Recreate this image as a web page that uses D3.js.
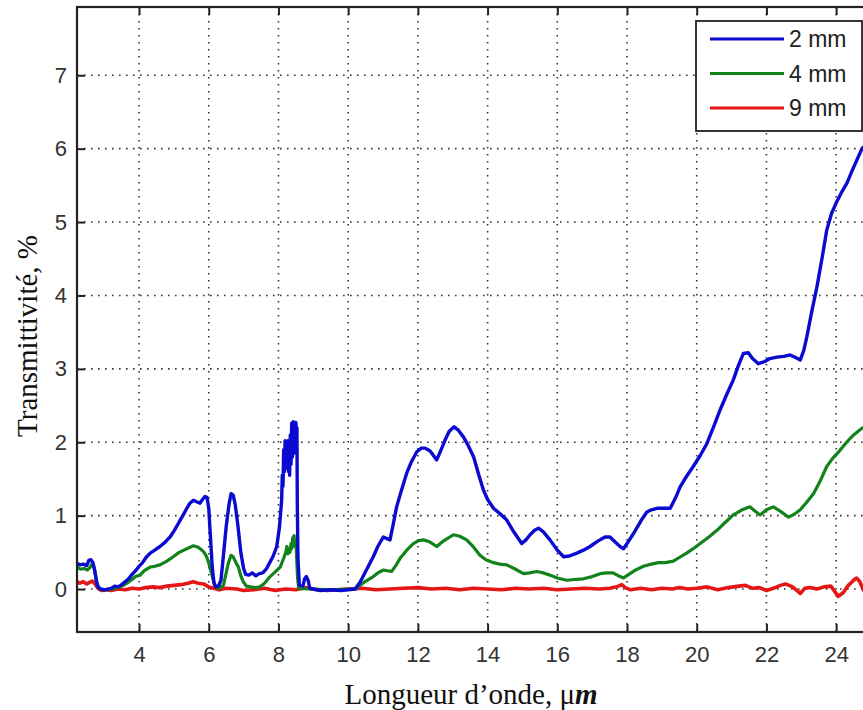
<!DOCTYPE html>
<html>
<head>
<meta charset="utf-8">
<script src="https://cdn.jsdelivr.net/npm/d3@7"></script>
<style>
  html, body { margin: 0; padding: 0; background: #fff; }
  svg { display: block; }
</style>
</head>
<body>
<svg id="chart" width="863" height="710"></svg>
<script>
// ---------- data ----------
const xTicks = [4, 6, 8, 10, 12, 14, 16, 18, 20, 22, 24];
const yTicks = [0, 1, 2, 3, 4, 5, 6, 7];
const seriesNames = ["2 mm", "4 mm", "9 mm"];

const x2mm = [2.22,2.30,2.40,2.50,2.56,2.62,2.68,2.74,2.80,2.88,3.00,3.10,3.20,3.30,3.40,3.50,3.60,3.70,3.80,3.90,4.00,4.10,4.20,4.32,4.45,4.60,4.75,4.89,5.00,5.10,5.18,5.28,5.37,5.46,5.56,5.65,5.75,5.82,5.89,5.95,6.00,6.05,6.10,6.15,6.20,6.28,6.35,6.42,6.50,6.58,6.64,6.70,6.76,6.84,6.92,7.00,7.06,7.15,7.25,7.35,7.45,7.55,7.66,7.75,7.85,7.95,8.03,8.09,8.11,8.13,8.15,8.17,8.19,8.21,8.23,8.25,8.27,8.29,8.31,8.32,8.34,8.36,8.38,8.40,8.42,8.44,8.46,8.48,8.50,8.52,8.53,8.54,8.56,8.60,8.70,8.75,8.80,8.85,8.90,9.20,9.50,9.80,10.00,10.20,10.35,10.50,10.72,10.85,11.01,11.10,11.20,11.30,11.39,11.50,11.68,11.80,11.97,12.10,12.21,12.35,12.54,12.65,12.78,12.90,13.04,13.15,13.31,13.45,13.60,13.75,13.88,14.00,14.17,14.35,14.55,14.75,14.98,15.10,15.22,15.35,15.46,15.60,15.79,16.00,16.18,16.35,16.56,16.75,16.94,17.15,17.37,17.51,17.66,17.80,17.90,18.00,18.19,18.40,18.57,18.70,18.86,19.05,19.24,19.40,19.52,19.70,19.90,20.10,20.29,20.50,20.67,20.85,21.05,21.20,21.34,21.48,21.60,21.77,21.95,22.10,22.30,22.50,22.68,22.85,22.97,23.07,23.16,23.30,23.45,23.60,23.73,23.87,24.02,24.15,24.31,24.45,24.59,24.74,24.85];
const y2mm = [0.35,0.33,0.34,0.32,0.39,0.40,0.36,0.22,0.05,0.00,-0.01,0.00,0.01,0.04,0.03,0.06,0.10,0.14,0.20,0.25,0.31,0.36,0.43,0.49,0.53,0.58,0.64,0.71,0.79,0.87,0.94,1.02,1.10,1.17,1.21,1.19,1.17,1.22,1.26,1.25,1.10,0.70,0.30,0.08,0.03,0.04,0.12,0.45,0.85,1.15,1.30,1.28,1.15,0.85,0.50,0.28,0.20,0.19,0.22,0.18,0.21,0.22,0.28,0.36,0.45,0.58,0.85,1.20,1.55,1.40,1.90,1.60,2.02,1.65,2.00,1.70,2.02,1.60,1.95,1.55,2.10,1.70,2.26,1.80,2.28,1.85,2.27,1.90,2.27,1.95,2.20,1.20,0.40,0.05,0.04,0.14,0.17,0.12,0.01,-0.02,-0.01,-0.02,-0.01,0.00,0.10,0.24,0.44,0.58,0.71,0.69,0.67,0.90,1.12,1.30,1.58,1.72,1.87,1.92,1.92,1.88,1.76,1.88,2.03,2.15,2.21,2.17,2.07,1.95,1.80,1.55,1.35,1.22,1.10,1.03,0.94,0.78,0.62,0.67,0.74,0.80,0.83,0.78,0.67,0.53,0.44,0.45,0.49,0.53,0.58,0.65,0.71,0.71,0.64,0.58,0.55,0.62,0.76,0.93,1.05,1.08,1.10,1.10,1.10,1.25,1.39,1.53,1.67,1.82,1.98,2.23,2.44,2.64,2.85,3.05,3.21,3.22,3.14,3.07,3.10,3.14,3.16,3.17,3.19,3.15,3.12,3.25,3.44,3.78,4.12,4.52,4.89,5.12,5.28,5.40,5.53,5.69,5.84,6.00,6.05];

const x4mm = [2.22,2.32,2.42,2.52,2.60,2.66,2.72,2.78,2.85,3.00,3.20,3.40,3.55,3.65,3.80,3.90,4.03,4.15,4.32,4.45,4.60,4.80,4.98,5.15,5.37,5.56,5.70,5.85,5.93,5.99,6.06,6.13,6.20,6.30,6.42,6.50,6.56,6.64,6.70,6.78,6.85,6.92,6.99,7.08,7.20,7.35,7.47,7.60,7.76,7.90,8.05,8.15,8.22,8.24,8.27,8.29,8.33,8.36,8.38,8.41,8.43,8.45,8.47,8.50,8.52,8.55,8.58,9.00,9.50,10.00,10.20,10.45,10.72,10.85,11.01,11.12,11.25,11.38,11.49,11.68,11.87,12.02,12.16,12.35,12.54,12.75,13.02,13.20,13.40,13.60,13.78,13.95,14.17,14.35,14.55,14.80,15.03,15.20,15.41,15.60,15.79,16.00,16.27,16.50,16.75,17.00,17.23,17.42,17.60,17.80,17.90,18.05,18.25,18.47,18.70,18.90,19.10,19.33,19.50,19.71,19.90,20.10,20.35,20.58,20.80,21.05,21.30,21.53,21.65,21.82,22.00,22.20,22.40,22.63,22.80,22.97,23.15,23.35,23.55,23.73,23.90,24.11,24.30,24.50,24.74,24.85];
const y4mm = [0.30,0.27,0.28,0.26,0.30,0.35,0.28,0.10,0.01,-0.01,0.00,0.02,0.05,0.08,0.13,0.17,0.19,0.25,0.30,0.31,0.33,0.38,0.44,0.50,0.55,0.59,0.57,0.51,0.45,0.37,0.25,0.12,0.03,0.01,0.05,0.22,0.35,0.46,0.44,0.36,0.30,0.18,0.10,0.04,0.03,0.02,0.03,0.08,0.17,0.23,0.30,0.42,0.52,0.58,0.48,0.55,0.50,0.62,0.55,0.70,0.60,0.73,0.58,0.66,0.45,0.15,0.01,0.00,-0.01,0.00,0.00,0.09,0.17,0.22,0.26,0.25,0.24,0.33,0.42,0.53,0.62,0.66,0.67,0.64,0.58,0.66,0.74,0.72,0.67,0.57,0.46,0.40,0.36,0.34,0.33,0.27,0.21,0.22,0.24,0.22,0.19,0.15,0.12,0.13,0.14,0.17,0.21,0.22,0.22,0.17,0.15,0.20,0.26,0.31,0.34,0.36,0.36,0.38,0.43,0.49,0.55,0.62,0.71,0.80,0.90,1.01,1.08,1.12,1.07,1.01,1.08,1.12,1.06,0.98,1.02,1.08,1.18,1.30,1.48,1.67,1.78,1.89,2.00,2.10,2.19,2.22];

const x9mm = [2.22,2.30,2.40,2.50,2.58,2.66,2.74,2.82,2.92,3.05,3.20,3.40,3.60,3.80,4.00,4.20,4.40,4.60,4.80,5.00,5.20,5.40,5.55,5.70,5.85,6.00,6.15,6.30,6.50,6.80,7.00,7.30,7.60,7.90,8.20,8.50,8.80,9.10,9.40,9.70,10.00,10.40,10.80,11.20,11.60,12.00,12.40,12.80,13.20,13.60,14.00,14.40,14.80,15.20,15.60,16.00,16.40,16.80,17.20,17.50,17.70,17.85,17.95,18.10,18.40,18.70,19.00,19.30,19.50,19.75,20.00,20.30,20.60,20.90,21.20,21.40,21.60,21.80,22.00,22.20,22.40,22.55,22.75,22.97,23.10,23.25,23.45,23.65,23.85,24.06,24.20,24.35,24.50,24.59,24.68,24.77,24.85];
const y9mm = [0.10,0.08,0.10,0.07,0.09,0.11,0.07,0.01,-0.02,-0.01,-0.02,0.00,-0.01,0.01,0.00,0.02,0.03,0.02,0.04,0.05,0.06,0.08,0.10,0.08,0.07,0.03,0.01,-0.01,0.01,0.00,-0.02,-0.01,0.01,-0.02,0.00,-0.01,0.02,-0.01,-0.02,-0.01,0.00,0.01,-0.01,0.00,0.01,0.02,0.00,0.01,-0.01,0.01,0.00,-0.01,0.01,0.00,0.01,-0.01,0.00,0.01,0.00,0.01,0.03,0.06,0.02,-0.01,0.01,-0.01,0.01,0.00,0.02,0.00,0.01,0.03,-0.01,0.02,0.04,0.05,0.01,0.02,-0.02,0.01,0.05,0.07,0.03,-0.06,0.01,0.02,0.00,0.03,0.04,-0.10,-0.05,0.05,0.12,0.15,0.10,0.00,-0.06];

// ---------- layout ----------
const svg = d3.select("#chart");
const mLeft = 77, mTop = 7, mBottom = 632, mRight = 871;
const x = d3.scaleLinear().domain([2.22, 25]).range([mLeft, mRight]);
const y = d3.scaleLinear().domain([-0.585, 7.93]).range([mBottom, mTop]);

svg.append("rect").attr("width", 863).attr("height", 710).attr("fill", "#fff");

// grid
const grid = svg.append("g").attr("stroke", "#333").attr("stroke-width", 1.6)
  .attr("stroke-dasharray", "1.6,5.4");
grid.selectAll("line.gx").data(xTicks).join("line")
  .attr("x1", d => x(d)).attr("x2", d => x(d))
  .attr("y1", mTop).attr("y2", mBottom);
grid.selectAll("line.gy").data(yTicks).join("line")
  .attr("y1", d => y(d)).attr("y2", d => y(d))
  .attr("x1", mLeft).attr("x2", mRight);

// axes (inner ticks)
const fontTick = "'Liberation Sans', Arial, sans-serif";
const gxB = svg.append("g").attr("transform", `translate(0,${mBottom})`)
  .call(d3.axisBottom(x).tickValues(xTicks).tickSizeInner(-8).tickSizeOuter(0).tickPadding(14));
const gxT = svg.append("g").attr("transform", `translate(0,${mTop})`)
  .call(d3.axisTop(x).tickValues(xTicks).tickSizeInner(-8).tickSizeOuter(0).tickFormat(""));
const gyL = svg.append("g").attr("transform", `translate(${mLeft},0)`)
  .call(d3.axisLeft(y).tickValues(yTicks).tickSizeInner(-8).tickSizeOuter(0).tickPadding(10));
[gxB, gxT, gyL].forEach(g => {
  g.select(".domain").remove();
  g.selectAll(".tick line").attr("stroke", "#222").attr("stroke-width", 2);
  g.selectAll(".tick text").attr("fill", "#333").style("font-family", fontTick).style("font-size", "22px");
});

// series lines
const colors = ["#0a0ad0", "#12821a", "#e41616"];
const widths = [3.4, 3.2, 3.6];
const seriesX = [x2mm, x4mm, x9mm];
const seriesY = [y2mm, y4mm, y9mm];
const line = d3.line().x(d => x(d[0])).y(d => y(d[1]));
svg.append("clipPath").attr("id", "clip").append("rect")
  .attr("x", mLeft).attr("y", mTop).attr("width", mRight - mLeft).attr("height", mBottom - mTop);
const lines = svg.append("g").attr("clip-path", "url(#clip)");
[2, 1, 0].forEach(i => {
  const pts = d3.zip(seriesX[i], seriesY[i]);
  lines.append("path").datum(pts).attr("d", line)
    .attr("fill", "none").attr("stroke", colors[i]).attr("stroke-width", widths[i])
    .attr("stroke-linejoin", "round");
});

// frame
svg.append("rect").attr("x", mLeft).attr("y", mTop).attr("width", mRight - mLeft).attr("height", mBottom - mTop)
  .attr("fill", "none").attr("stroke", "#222").attr("stroke-width", 2.2);

// legend
const lg = svg.append("g");
lg.append("rect").attr("x", 696).attr("y", 21).attr("width", 166).attr("height", 110)
  .attr("fill", "#fff").attr("stroke", "#222").attr("stroke-width", 1.8);
seriesNames.forEach((n, i) => {
  const ly = 39 + i * 34.5;
  lg.append("line").attr("x1", 710).attr("x2", 784).attr("y1", ly).attr("y2", ly)
    .attr("stroke", colors[i]).attr("stroke-width", 3);
  lg.append("text").attr("x", 789).attr("y", ly).attr("dy", "0.36em")
    .style("font-family", fontTick).style("font-size", "23px").attr("fill", "#222").text(n);
});

// axis titles
const serif = "'Liberation Serif', 'Times New Roman', serif";
const xt = svg.append("text").attr("x", 471).attr("y", 704).attr("text-anchor", "middle")
  .style("font-family", serif).style("font-size", "29px").attr("fill", "#111");
xt.append("tspan").text("Longueur d’onde, μ");
xt.append("tspan").style("font-weight", "bold").style("font-style", "italic").text("m");

svg.append("text").attr("transform", "translate(37,336) rotate(-90)").attr("text-anchor", "middle")
  .style("font-family", serif).style("font-size", "29px").attr("fill", "#111")
  .text("Transmittivité, %");
</script>
</body>
</html>
